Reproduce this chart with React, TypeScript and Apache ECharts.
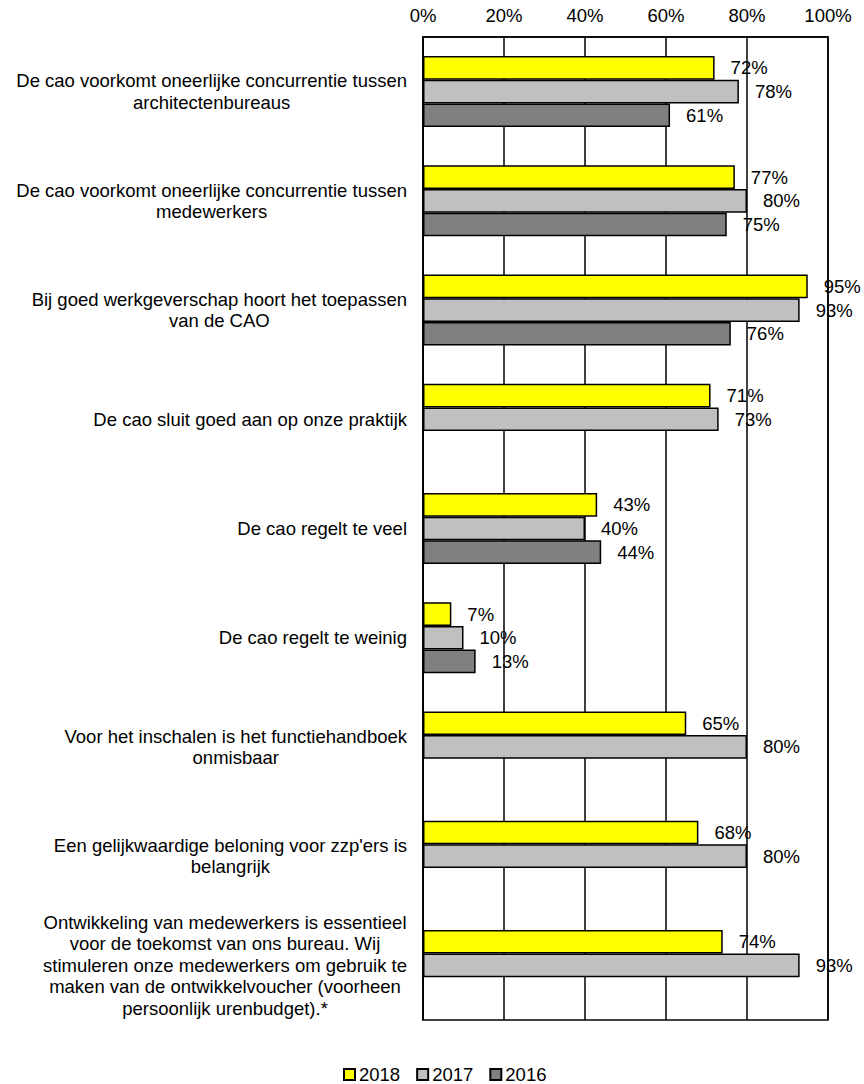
import React, { useEffect, useRef } from "react";
import * as echarts from "echarts";

const categories = [
  "De cao voorkomt oneerlijke concurrentie tussen\narchitectenbureaus",
  "De cao voorkomt oneerlijke concurrentie tussen\nmedewerkers",
  "Bij goed werkgeverschap hoort het toepassen\nvan de CAO",
  "De cao sluit goed aan op onze praktijk",
  "De cao regelt te veel",
  "De cao regelt te weinig",
  "Voor het inschalen is het functiehandboek\nonmisbaar",
  "Een gelijkwaardige beloning voor zzp'ers is\nbelangrijk",
  "Ontwikkeling van medewerkers is essentieel\nvoor de toekomst van ons bureau. Wij\nstimuleren onze medewerkers om gebruik te\nmaken van de ontwikkelvoucher (voorheen\npersoonlijk urenbudget).*",
];

const values2018 = [72, 77, 95, 71, 43, 7, 65, 68, 74];
const values2017 = [78, 80, 93, 73, 40, 10, 80, 80, 93];
const values2016 = [61, 75, 76, null, 44, 13, null, null, null];

const xTicks = [0, 20, 40, 60, 80, 100];

const FONT = "'Liberation Sans', Arial, sans-serif";
const FS = 18.5;

export default function App() {
  const ref = useRef<HTMLDivElement>(null);

  useEffect(() => {
    document.body.style.margin = "0";
    if (!ref.current) return;
    const chart = echarts.init(ref.current, undefined, { renderer: "svg" });

    const mkSeries = (name: string, data: (number | null)[], color: string) => ({
      name,
      type: "bar",
      data,
      barGap: "0%",
      barCategoryGap: "35%",
      itemStyle: { color, borderColor: "#000", borderWidth: 1.5 },
      label: {
        show: true,
        position: "right",
        distance: 16,
        formatter: (p: any) => `${p.value}%`,
        fontSize: FS,
        fontFamily: FONT,
        color: "#000",
      },
    });

    chart.setOption({
      animation: false,
      backgroundColor: "#fff",
      textStyle: { fontFamily: FONT },
      grid: {
        left: 423,
        right: 36,
        top: 37,
        bottom: 64,
        show: true,
        borderColor: "#000",
        borderWidth: 1.5,
      },
      legend: {
        left: 343,
        top: 1065,
        padding: 0,
        itemWidth: 11,
        itemHeight: 11,
        itemGap: 16,
        icon: "rect",
        textStyle: { fontSize: FS, fontFamily: FONT, color: "#000", padding: [0, 0, 0, -1] },
        data: ["2018", "2017", "2016"],
      },
      xAxis: {
        type: "value",
        position: "top",
        min: xTicks[0],
        max: xTicks[xTicks.length - 1],
        interval: 20,
        axisLine: { show: true, lineStyle: { color: "#000", width: 1.5 } },
        axisTick: { show: false },
        splitLine: { show: true, lineStyle: { color: "#000", width: 1.5 } },
        axisLabel: {
          formatter: "{value}%",
          fontSize: FS,
          fontFamily: FONT,
          color: "#000",
          margin: 12,
        },
      },
      yAxis: {
        type: "category",
        inverse: true,
        data: categories,
        axisLine: { show: true, lineStyle: { color: "#000", width: 1.5 } },
        axisTick: { show: false },
        axisLabel: {
          interval: 0,
          margin: 16,
          formatter: (v: string) =>
            v
              .split("\n")
              .map((l) => `{c|${l}}`)
              .join("\n"),
          rich: {
            c: {
              align: "center",
              fontSize: FS,
              lineHeight: 21.5,
              fontFamily: FONT,
              color: "#000",
            },
          },
        },
      },
      series: [
        mkSeries("2018", values2018, "#FFFF00"),
        mkSeries("2017", values2017, "#C0C0C0"),
        mkSeries("2016", values2016, "#808080"),
      ],
    });

    return () => chart.dispose();
  }, []);

  return <div ref={ref} style={{ width: 864, height: 1084 }} />;
}
